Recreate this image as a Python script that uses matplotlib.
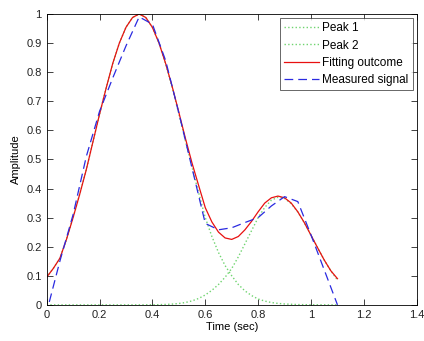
import numpy as np
import matplotlib
matplotlib.use("Agg")
import matplotlib.pyplot as plt

plt.rcParams["font.family"] = ["Liberation Sans", "DejaVu Sans"]

# sample times (sec) for the fitted peaks
t_fit = [0.0, 0.025, 0.05, 0.075, 0.1, 0.125, 0.15, 0.175, 0.2, 0.225,
         0.25, 0.275, 0.3, 0.325, 0.35, 0.375, 0.4, 0.425, 0.45, 0.475,
         0.5, 0.525, 0.55, 0.575, 0.6, 0.625, 0.65, 0.675, 0.7, 0.725,
         0.75, 0.775, 0.8, 0.825, 0.85, 0.875, 0.9, 0.925, 0.95, 0.975,
         1.0, 1.025, 1.05, 1.075, 1.1]

peak1 = [0.095, 0.125, 0.16, 0.225, 0.30, 0.38, 0.465, 0.56, 0.655, 0.745,
         0.829, 0.900, 0.954, 0.988, 1.0, 0.988, 0.954, 0.900, 0.829, 0.747,
         0.657, 0.564, 0.473, 0.385, 0.30, 0.235, 0.18, 0.135, 0.10, 0.07,
         0.048, 0.032, 0.02, 0.013, 0.008, 0.005, 0.003, 0.002, 0.001, 0.0007,
         0.0004, 0.0002, 0.0001, 0.0, 0.0]

peak2 = [0.0, 0.0, 0.0, 0.0, 0.0, 0.0, 0.0, 0.0, 0.0, 0.0,
         0.0, 0.0, 0.0, 0.0, 0.0001, 0.0002, 0.0003, 0.0007, 0.0014, 0.0026,
         0.0047, 0.0081, 0.0137, 0.022, 0.034, 0.05, 0.07, 0.095, 0.125, 0.165,
         0.21, 0.255, 0.30, 0.335, 0.36, 0.37, 0.366, 0.348, 0.319, 0.282,
         0.239, 0.196, 0.154, 0.117, 0.085]

fit = [0.095, 0.125, 0.16, 0.225, 0.30, 0.38, 0.465, 0.56, 0.655, 0.745,
       0.83, 0.900, 0.954, 0.988, 1.0, 0.988, 0.954, 0.900, 0.830, 0.75,
       0.662, 0.572, 0.487, 0.41, 0.334, 0.285, 0.25, 0.23, 0.225, 0.235,
       0.258, 0.287, 0.32, 0.35, 0.368, 0.374, 0.368, 0.35, 0.32, 0.282,
       0.239, 0.196, 0.154, 0.117, 0.09]

# measured signal
t_meas = [0.01, 0.05, 0.1, 0.15, 0.2, 0.25, 0.3, 0.35, 0.4, 0.45, 0.5,
          0.55, 0.6, 0.65, 0.7, 0.75, 0.8, 0.85, 0.9, 0.95, 1.0, 1.05, 1.1]
measured = [0.01, 0.15, 0.31, 0.51, 0.665, 0.78, 0.89, 0.99, 0.965, 0.84, 0.66,
            0.47, 0.28, 0.258, 0.265, 0.283, 0.30, 0.34, 0.372, 0.355, 0.24, 0.12, 0.0]

fig = plt.figure(figsize=(4.24, 3.41), dpi=100)
ax = fig.add_axes([0.110, 0.106, 0.873, 0.853])

ax.plot(t_fit, peak1, ":", color="#6fd46f", lw=1.0, label="Peak 1")
ax.plot(t_fit, peak2, ":", color="#6fd46f", lw=1.0, label="Peak 2")
ax.plot(t_fit, fit, "-", color="#e81010", lw=0.9, label="Fitting outcome")
ax.plot(t_meas, measured, "--", color="#2a2ae0", lw=0.9, dashes=(7, 4),
        label="Measured signal")

ax.set_xlim(0, 1.4)
ax.set_ylim(0, 1)
ax.set_xticks(np.arange(0, 1.41, 0.2))
ax.set_xticklabels(["0", "0.2", "0.4", "0.6", "0.8", "1", "1.2", "1.4"])
ax.set_yticks(np.arange(0, 1.01, 0.1))
ax.set_yticklabels(["0", "0.1", "0.2", "0.3", "0.4", "0.5", "0.6", "0.7",
                    "0.8", "0.9", "1"])
ax.tick_params(direction="in", top=True, right=True, length=4, width=0.6,
               labelsize=8, colors="#222222")
for s in ax.spines.values():
    s.set_linewidth(0.6)

ax.set_xlabel("Time (sec)", fontsize=8, labelpad=2)
ax.set_ylabel("Amplitude", fontsize=8, labelpad=4)

leg = ax.legend(loc="upper right", fontsize=8.5, frameon=True, fancybox=False,
                borderaxespad=0.35, handlelength=3.0, handletextpad=0.25,
                labelspacing=0.45, borderpad=0.35)
leg.get_frame().set_edgecolor("#222222")
leg.get_frame().set_linewidth(0.6)

fig.savefig("out.png", dpi=100)
